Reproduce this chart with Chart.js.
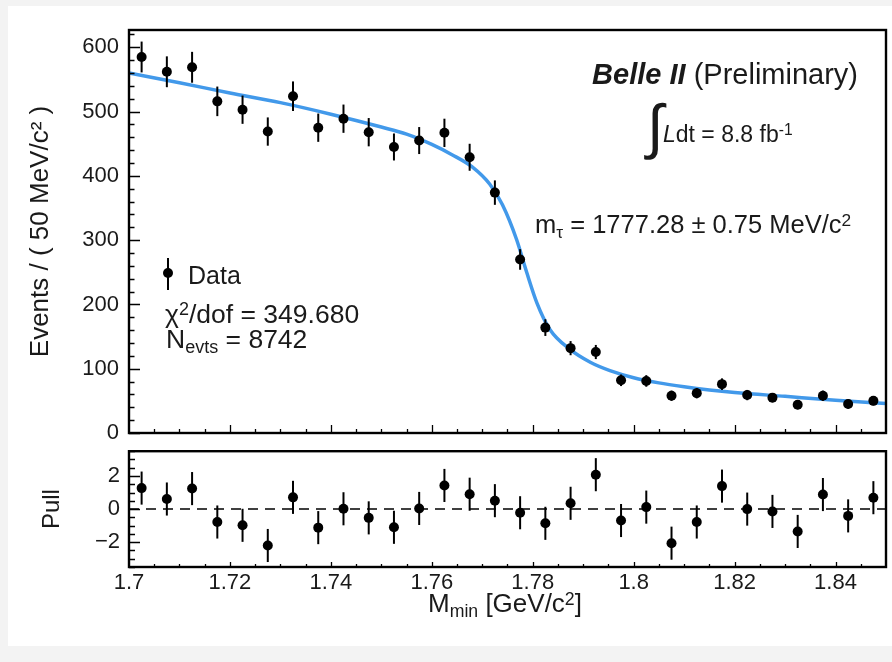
<!DOCTYPE html>
<html>
<head>
<meta charset="utf-8">
<script src="https://cdn.jsdelivr.net/npm/chart.js@4.4.0/dist/chart.umd.min.js"></script>
<style>
  html, body { margin: 0; padding: 0; }
  body { width: 892px; height: 662px; background: #f3f3f3; position: relative; overflow: hidden;
         font-family: "Liberation Sans", Arial, sans-serif; color: #1a1a1a; }
  #card { position: absolute; left: 8px; top: 6px; width: 884px; height: 640px; background: #fff; }
  .wrap { position: absolute; left: 0; width: 892px; }
  .txt { position: absolute; white-space: nowrap; line-height: 1; }
  .sub { font-size: 0.68em; position: relative; top: 0.28em; }
  .sup { font-size: 0.68em; position: relative; top: -0.42em; }
</style>
</head>
<body>
<div id="card"></div>
<div class="wrap" style="top:0;height:457px"><canvas id="mainChart" width="892" height="457"></canvas></div>
<div class="wrap" style="top:429px;height:233px"><canvas id="pullChart" width="892" height="233"></canvas></div>

<!-- annotations -->
<div class="txt" style="right:34px;top:60px;font-size:29px"><b><i>Belle II</i></b> (Preliminary)</div>
<div class="txt" style="left:647px;top:97px;font-size:60px">&#8747;</div>
<div class="txt" style="left:663px;top:123px;font-size:23px"><i>L</i>dt = 8.8 fb<span class="sup">-1</span></div>
<div class="txt" style="left:535px;top:212px;font-size:25.5px">m<span class="sub">&tau;</span> = 1777.28 &plusmn; 0.75 MeV/c<span class="sup">2</span></div>

<div style="position:absolute;left:167px;top:258px;width:2px;height:32px;background:#000"></div>
<div style="position:absolute;left:163px;top:268px;width:10px;height:10px;border-radius:50%;background:#000"></div>
<div class="txt" style="left:188px;top:263px;font-size:25px">Data</div>
<div class="txt" style="left:165px;top:301px;font-size:26.5px">&chi;<span class="sup">2</span>/dof = 349.680</div>
<div class="txt" style="left:166px;top:326px;font-size:26.5px">N<span class="sub">evts</span> = 8742</div>

<div class="txt" style="left:428px;top:590px;font-size:26px">M<span class="sub">min</span> [GeV/c<span class="sup">2</span>]</div>

<script>
// bin centres (GeV/c^2), 30 bins of 5 MeV from 1.70 to 1.85
const binMass = [1.7025, 1.7075, 1.7125, 1.7175, 1.7225, 1.7275, 1.7325, 1.7375, 1.7425, 1.7475,
                 1.7525, 1.7575, 1.7625, 1.7675, 1.7725, 1.7775, 1.7825, 1.7875, 1.7925, 1.7975,
                 1.8025, 1.8075, 1.8125, 1.8175, 1.8225, 1.8275, 1.8325, 1.8375, 1.8425, 1.8475];

// events per bin
const eventCounts = [585, 562, 569, 516, 503, 469, 524, 475, 489, 468,
                     445, 455, 467, 429, 374, 270, 164, 132, 126, 82,
                     81, 58, 62, 76, 59, 55, 44, 58, 45, 50];
const eventErrors = [24, 24, 24, 23, 22, 22, 23, 22, 22, 22,
                     21, 21, 22, 21, 19, 16, 13, 11, 11, 9,
                     9, 8, 8, 9, 8, 7, 7, 8, 7, 7];

// pulls
const pullValues = [1.27, 0.61, 1.24, -0.78, -0.98, -2.2, 0.71, -1.12, 0.02, -0.53,
                    -1.1, 0.04, 1.43, 0.9, 0.51, -0.22, -0.86, 0.35, 2.08, -0.69,
                    0.12, -2.06, -0.78, 1.39, 0.0, -0.14, -1.35, 0.88, -0.41, 0.69];
const pullErrors = [1, 1, 1, 1, 1, 1, 1, 1, 1, 1,
                    1, 1, 1, 1, 1, 1, 1, 1, 1, 1,
                    1, 1, 1, 1, 1, 1, 1, 1, 1, 1];

// fit curve
const fitMass   = [1.700, 1.710, 1.720, 1.730, 1.740, 1.750, 1.755, 1.760, 1.764, 1.768,
                   1.7715, 1.774, 1.7768, 1.7788, 1.7808, 1.7834, 1.7874, 1.7914, 1.7953, 1.800,
                   1.805, 1.810, 1.815, 1.820, 1.830, 1.840, 1.850];
const fitEvents = [560, 545, 529, 514, 496, 476, 465, 449, 433, 414,
                   387, 355, 301, 250, 203, 161, 130, 110, 97, 86,
                   78, 72, 67, 63, 57, 51, 46];

// axis ticks
const massTicks = [1.7, 1.72, 1.74, 1.76, 1.78, 1.8, 1.82, 1.84];
const eventTicks = [0, 100, 200, 300, 400, 500, 600];
const pullTicks = [-2, 0, 2];

const FONT = "'Liberation Sans', Arial, sans-serif";
const INK = '#1a1a1a';

// vertical error bars for datasets that carry an "errors" array
const errorBars = {
  id: 'errorBars',
  afterDatasetsDraw(chart) {
    const ctx = chart.ctx;
    const ys = chart.scales.y;
    chart.data.datasets.forEach((ds, di) => {
      if (!ds.errors) return;
      const meta = chart.getDatasetMeta(di);
      ctx.save();
      ctx.strokeStyle = '#000';
      ctx.lineWidth = 2;
      meta.data.forEach((pt, i) => {
        const v = ds.data[i].y, e = ds.errors[i];
        ctx.beginPath();
        ctx.moveTo(pt.x, ys.getPixelForValue(v + e));
        ctx.lineTo(pt.x, ys.getPixelForValue(v - e));
        ctx.stroke();
      });
      ctx.restore();
    });
  }
};

// ROOT style box with inward ticks
const frameTicks = {
  id: 'frameTicks',
  beforeDatasetsDraw(chart, args, opts) {
    if (!opts.zeroLine) return;
    const {ctx, chartArea: a} = chart;
    const y0 = chart.scales.y.getPixelForValue(0);
    ctx.save();
    ctx.strokeStyle = '#000';
    ctx.lineWidth = 1.5;
    ctx.setLineDash([10, 7]);
    ctx.beginPath();
    ctx.moveTo(a.left, y0);
    ctx.lineTo(a.right, y0);
    ctx.stroke();
    ctx.restore();
  },
  afterDraw(chart, args, opts) {
    const {ctx, chartArea: a, scales} = chart;
    const xs = scales.x, ys = scales.y;
    ctx.save();
    ctx.strokeStyle = '#000';
    ctx.lineWidth = 1.3;
    ctx.beginPath();
    let n = Math.round((xs.max - xs.min) / opts.xMinor);
    for (let k = 1; k < n; k++) {
      const v = xs.min + k * opts.xMinor;
      const major = massTicks.some(t => Math.abs(t - v) < 1e-6);
      const px = Math.round(xs.getPixelForValue(v)) + 0.5;
      ctx.moveTo(px, a.bottom);
      ctx.lineTo(px, a.bottom - (major ? opts.xMajor : opts.xMinorLen));
    }
    const yStart = Math.ceil(ys.min / opts.yMinor) * opts.yMinor;
    n = Math.floor((ys.max - yStart) / opts.yMinor + 1e-6);
    for (let k = 0; k <= n; k++) {
      const v = yStart + k * opts.yMinor;
      const major = opts.yMajorList.some(t => Math.abs(t - v) < 1e-6);
      const py = Math.round(ys.getPixelForValue(v)) + 0.5;
      ctx.moveTo(a.left, py);
      ctx.lineTo(a.left + (major ? opts.yMajor : opts.yMinorLen), py);
    }
    ctx.stroke();
    ctx.lineWidth = 2.4;
    ctx.strokeRect(a.left, a.top, a.right - a.left, a.bottom - a.top);
    ctx.restore();
  }
};

const setTicks = list => scale => { scale.ticks = list.map(v => ({value: v})); };

new Chart(document.getElementById('mainChart'), {
  data: {
    datasets: [
      {
        type: 'scatter',
        data: binMass.map((m, i) => ({x: m, y: eventCounts[i]})),
        errors: eventErrors,
        pointRadius: 5,
        pointBackgroundColor: '#000',
        pointBorderWidth: 0,
        order: 0
      },
      {
        type: 'line',
        data: fitMass.map((m, i) => ({x: m, y: fitEvents[i]})),
        borderColor: 'rgb(66,153,234)',
        borderWidth: 3.5,
        pointRadius: 0,
        cubicInterpolationMode: 'monotone',
        fill: false,
        order: 1
      }
    ]
  },
  options: {
    responsive: false,
    animation: false,
    devicePixelRatio: 1,
    layout: { padding: { top: 30, right: 6, bottom: 24, left: 0 } },
    plugins: {
      legend: { display: false },
      tooltip: { enabled: false },
      frameTicks: { xMinor: 0.005, xMajor: 8, xMinorLen: 4, yMinor: 20, yMajor: 11, yMinorLen: 5.5, yMajorList: eventTicks }
    },
    scales: {
      x: { type: 'linear', min: 1.7, max: 1.85, display: false, afterBuildTicks: setTicks(massTicks) },
      y: {
        type: 'linear', min: 0, max: 627,
        afterBuildTicks: setTicks(eventTicks),
        afterFit: s => { s.width = 129; },
        grid: { display: false, drawTicks: false },
        border: { display: false },
        ticks: { color: INK, font: { family: FONT, size: 22 }, padding: 10 },
        title: { display: true, text: 'Events / ( 50 MeV/c\u00b2 )', color: INK,
                 font: { family: FONT, size: 26 }, padding: { top: 25, bottom: 0 } }
      }
    }
  },
  plugins: [errorBars, frameTicks]
});

new Chart(document.getElementById('pullChart'), {
  data: {
    datasets: [
      {
        type: 'scatter',
        data: binMass.map((m, i) => ({x: m, y: pullValues[i]})),
        errors: pullErrors,
        pointRadius: 5,
        pointBackgroundColor: '#000',
        pointBorderWidth: 0
      }
    ]
  },
  options: {
    responsive: false,
    animation: false,
    devicePixelRatio: 1,
    layout: { padding: { top: 22, right: 6, bottom: 0, left: 0 } },
    plugins: {
      legend: { display: false },
      tooltip: { enabled: false },
      frameTicks: { zeroLine: true, xMinor: 0.005, xMajor: 5, xMinorLen: 3, yMinor: 0.5, yMajor: 11, yMinorLen: 6, yMajorList: pullTicks }
    },
    scales: {
      x: {
        type: 'linear', min: 1.7, max: 1.85,
        afterBuildTicks: setTicks(massTicks),
        afterFit: s => { s.height = 95; },
        grid: { display: false, drawTicks: false },
        border: { display: false },
        ticks: { color: INK, font: { family: FONT, size: 22 }, padding: 3, autoSkip: false, maxRotation: 0,
                 callback: v => String(v) }
      },
      y: {
        type: 'linear', min: -3.5, max: 3.5,
        afterBuildTicks: setTicks(pullTicks),
        afterFit: s => { s.width = 129; },
        grid: { display: false, drawTicks: false },
        border: { display: false },
        ticks: { color: INK, font: { family: FONT, size: 22 }, padding: 9,
                 callback: v => String(v).replace('-', '\u2212') },
        title: { display: true, text: 'Pull', color: INK,
                 font: { family: FONT, size: 24 }, padding: { top: 38, bottom: 0 } }
      }
    }
  },
  plugins: [errorBars, frameTicks]
});
</script>
</body>
</html>
